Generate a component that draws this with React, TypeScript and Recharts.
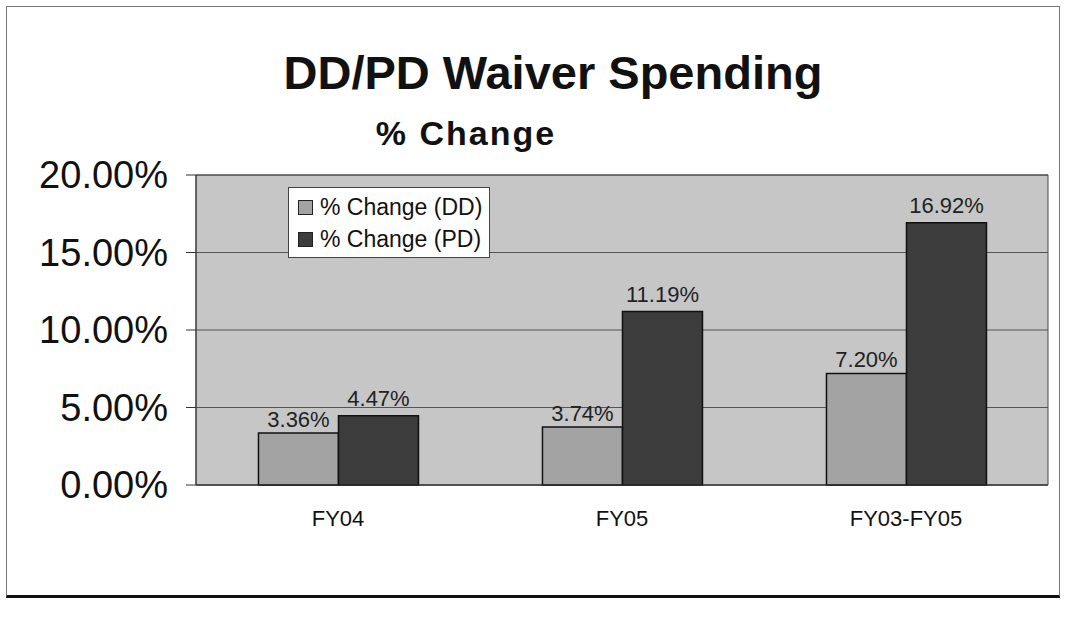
import React from 'react';
import {
    BarChart, Bar, XAxis, YAxis, CartesianGrid, LabelList, ReferenceArea,
} from 'recharts';

const categories = ['FY04', 'FY05', 'FY03-FY05'];
const ddChange = [3.36, 3.74, 7.2];
const pdChange = [4.47, 11.19, 16.92];
const yTicks = [0, 5, 10, 15, 20];
const edgeTicks = [0, 1, 2, 3];

const FONT = '"Liberation Sans", Arial, sans-serif';
const DD_COLOR = '#a3a3a3';
const PD_COLOR = '#3c3c3c';

const data = categories.map((c, i) => ({ name: c, dd: ddChange[i], pd: pdChange[i] }));

const pct = (v: any) => `${Number(v).toFixed(2)}%`;

function LegendBox() {
    const items = [
        { label: '% Change (DD)', color: DD_COLOR },
        { label: '% Change (PD)', color: PD_COLOR },
    ];
    return (
        <div style={{
            position: 'absolute', left: 288, top: 187, width: 202, height: 71, boxSizing: 'border-box',
            background: '#fff', border: '1px solid #444', padding: '3px 0 0 9px',
            fontSize: 23, color: '#111', lineHeight: '32px',
        }}>
            {items.map(it => (
                <div key={it.label} style={{ display: 'flex', alignItems: 'center' }}>
                    <span style={{
                        width: 13, height: 13, background: it.color, border: '1px solid #222',
                        display: 'inline-block', marginRight: 7,
                    }} />
                    {it.label}
                </div>
            ))}
        </div>
    );
}

export default function App() {
    return (
        <div style={{ position: 'absolute', left: 0, top: 0, width: 1068, height: 620, background: '#fff', fontFamily: FONT }}>
            <div style={{
                position: 'absolute', left: 6, top: 6, width: 1054, height: 592,
                border: '1px solid #777', borderBottom: '3px solid #111', boxSizing: 'border-box',
            }} />
            <div style={{
                position: 'absolute', left: 0, width: 1106, top: 45, textAlign: 'center',
                fontSize: 47, fontWeight: 'bold', color: '#111',
            }}>
                DD/PD Waiver Spending
            </div>
            <div style={{
                position: 'absolute', left: 0, width: 932, top: 114, textAlign: 'center',
                fontSize: 34, fontWeight: 'bold', color: '#111', letterSpacing: 2,
            }}>
                % Change
            </div>
            <div style={{ position: 'absolute', left: 0, top: 0 }}>
                <BarChart
                    width={1068}
                    height={620}
                    data={data}
                    margin={{ top: 175, right: 20, left: 10, bottom: 75 }}
                    barCategoryGap="22%"
                    barGap={0}
                >
                    <CartesianGrid vertical={false} stroke="#555" fill="#c6c6c6" fillOpacity={1} />
                    <XAxis
                        dataKey="name"
                        height={60}
                        tickLine={false}
                        axisLine={{ stroke: '#333' }}
                        tickMargin={19}
                        tick={{ fontSize: 22, fill: '#111', fontFamily: FONT }}
                    />
                    <XAxis
                        xAxisId="edges"
                        type="number"
                        domain={[0, 3]}
                        ticks={edgeTicks}
                        height={0}
                        tick={() => <g />}
                        axisLine={false}
                        tickLine={{ stroke: '#333' }}
                        tickSize={9}
                    />
                    <YAxis
                        width={186}
                        domain={[0, 20]}
                        ticks={yTicks}
                        tickSize={10}
                        tickMargin={18}
                        axisLine={{ stroke: '#333' }}
                        tickLine={{ stroke: '#333' }}
                        tickFormatter={pct}
                        tick={{ fontSize: 38, fill: '#111', fontFamily: FONT }}
                    />
                    <ReferenceArea y1={0} y2={20} fill="none" stroke="#444" strokeWidth={1} />
                    <Bar dataKey="dd" name="% Change (DD)" fill={DD_COLOR} stroke="#111" strokeWidth={1.5} isAnimationActive={false}>
                        <LabelList dataKey="dd" position="top" offset={6} formatter={pct}
                            style={{ fontSize: 22, fill: '#222', fontFamily: FONT }} />
                    </Bar>
                    <Bar dataKey="pd" name="% Change (PD)" fill={PD_COLOR} stroke="#111" strokeWidth={1.5} isAnimationActive={false}>
                        <LabelList dataKey="pd" position="top" offset={10} formatter={pct}
                            style={{ fontSize: 22, fill: '#222', fontFamily: FONT }} />
                    </Bar>
                </BarChart>
            </div>
            <LegendBox />
        </div>
    );
}
